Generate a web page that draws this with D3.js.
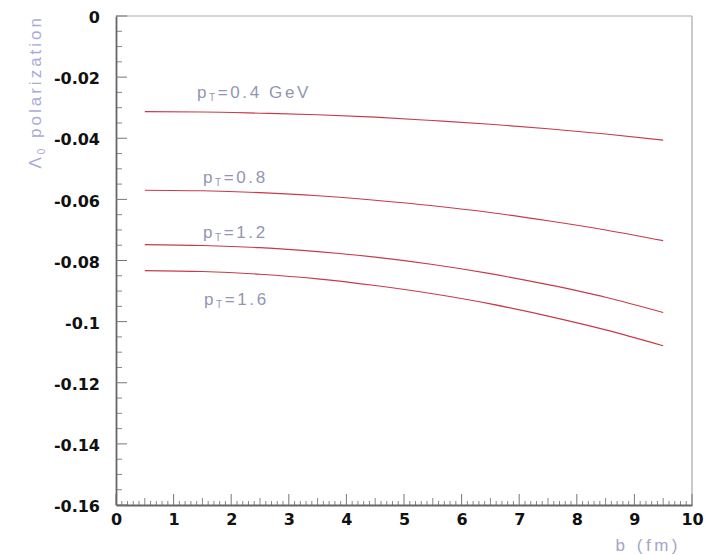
<!DOCTYPE html>
<html>
<head>
<meta charset="utf-8">
<script src="https://cdn.jsdelivr.net/npm/d3@7/dist/d3.min.js"></script>
<style>
  html, body { margin: 0; padding: 0; background: #fff; }
  svg { display: block; }
</style>
</head>
<body>
<svg id="chart" width="713" height="555"></svg>
<script>
// ---- data ----
const bValues = [0.5, 1.5, 2.5, 3.5, 4.5, 5.5, 6.5, 7.5, 8.5, 9.5];
const pt04 = [-0.0313, -0.0314, -0.0318, -0.0323, -0.0331, -0.0342, -0.0354, -0.0369, -0.0386, -0.0406];
const pt08 = [-0.0570, -0.0572, -0.0578, -0.0588, -0.0603, -0.0621, -0.0643, -0.0670, -0.0700, -0.0735];
const pt12 = [-0.0748, -0.0751, -0.0758, -0.0771, -0.0789, -0.0813, -0.0843, -0.0879, -0.0920, -0.0970];
const pt16 = [-0.0833, -0.0836, -0.0845, -0.0860, -0.0882, -0.0909, -0.0942, -0.0982, -0.1027, -0.1079];
const seriesLabels = ["=0.4 GeV", "=0.8", "=1.2", "=1.6"];
const xTickValues = [0, 1, 2, 3, 4, 5, 6, 7, 8, 9, 10];
const yTickValues = [0, -0.02, -0.04, -0.06, -0.08, -0.1, -0.12, -0.14, -0.16];
const yTickLabels = ["0", "-0.02", "-0.04", "-0.06", "-0.08", "-0.1", "-0.12", "-0.14", "-0.16"];

const series = [pt04, pt08, pt12, pt16];

(function () {
// ---- layout ----
const mLeft = 116, mRight = 692, mTop = 16, mBottom = 505;
const svg = d3.select("#chart");

const x = d3.scaleLinear().domain([0, 10]).range([mLeft, mRight]);
const y = d3.scaleLinear().domain([-0.16, 0]).range([mBottom, mTop]);

const axisColor = "#666";
const tickFont = "'DejaVu Sans', sans-serif";

// frame (top and right borders lighter)
svg.append("line").attr("x1", mLeft).attr("x2", mRight).attr("y1", mTop).attr("y2", mTop)
  .attr("stroke", "#aaa").attr("stroke-width", 1.2);
svg.append("line").attr("x1", mRight).attr("x2", mRight).attr("y1", mTop).attr("y2", mBottom)
  .attr("stroke", "#c4c4c4").attr("stroke-width", 1.8);

// minor ticks x
const xMinor = d3.range(0, 100).map(i => i / 10).filter(v => Math.abs(v - Math.round(v)) > 1e-6);
svg.append("g").selectAll("line").data(xMinor).join("line")
  .attr("x1", d => x(d)).attr("x2", d => x(d))
  .attr("y1", mBottom).attr("y2", d => mBottom - (Math.abs((d * 10) % 10 - 5) < 1e-6 ? 7 : 4))
  .attr("stroke", "#888").attr("stroke-width", 1);

// minor ticks y
const yMinor = d3.range(0, 33).map(i => -i * 0.005).filter((v, i) => i % 4 !== 0);
svg.append("g").selectAll("line").data(yMinor).join("line")
  .attr("x1", mLeft).attr("x2", mLeft + 6)
  .attr("y1", d => y(d)).attr("y2", d => y(d))
  .attr("stroke", "#888").attr("stroke-width", 1);

// x axis
const xAxis = d3.axisBottom(x).tickValues(xTickValues).tickSize(0).tickPadding(9)
  .tickFormat(d3.format("d"));
const gx = svg.append("g").attr("transform", `translate(0,${mBottom})`).call(xAxis);
gx.select(".domain").attr("stroke", axisColor).attr("stroke-width", 1.8);
gx.selectAll(".tick text").attr("font-family", tickFont).attr("font-weight", "bold")
  .attr("font-size", 16).attr("fill", "#111");
svg.append("g").selectAll("line").data(xTickValues).join("line")
  .attr("x1", d => x(d)).attr("x2", d => x(d)).attr("y1", mBottom).attr("y2", mBottom - 11)
  .attr("stroke", "#777").attr("stroke-width", 1);

// y axis
const yAxis = d3.axisLeft(y).tickValues(yTickValues).tickSize(0).tickPadding(16)
  .tickFormat((d, i) => yTickLabels[i]);
const gy = svg.append("g").attr("transform", `translate(${mLeft},0)`).call(yAxis);
gy.select(".domain").attr("stroke", axisColor).attr("stroke-width", 1.8);
gy.selectAll(".tick text").attr("font-family", tickFont).attr("font-weight", "bold")
  .attr("font-size", 16).attr("fill", "#111").attr("dy", "0.42em");
svg.append("g").selectAll("line").data(yTickValues).join("line")
  .attr("x1", mLeft).attr("x2", mLeft + 11).attr("y1", d => y(d)).attr("y2", d => y(d))
  .attr("stroke", "#777").attr("stroke-width", 1);

// curves
const line = d3.line().x((d, i) => x(bValues[i])).y(d => y(d)).curve(d3.curveMonotoneX);
svg.append("g").selectAll("path").data(series).join("path")
  .attr("d", d => line(d)).attr("fill", "none")
  .attr("stroke", "#c83a4a").attr("stroke-width", 1.1);

// curve labels
const labelFont = "'Liberation Sans', 'Open Sans', sans-serif";
const labelColor = "#9296b4";
const labelPos = [[197, 98], [203, 183], [203, 238], [204, 305]];
seriesLabels.forEach((s, i) => {
  const t = svg.append("text").attr("x", labelPos[i][0]).attr("y", labelPos[i][1])
    .attr("font-family", labelFont).attr("font-size", 17).attr("fill", labelColor)
    .attr("letter-spacing", 2.6);
  t.append("tspan").text("p");
  t.append("tspan").attr("font-size", 10).attr("dy", 3).text("T");
  t.append("tspan").attr("dy", -3).text(s);
});

// axis titles
svg.append("text").attr("x", 681).attr("y", 551).attr("text-anchor", "end")
  .attr("font-family", labelFont).attr("font-size", 17).attr("fill", "#a2a6c8")
  .attr("letter-spacing", 3.5)
  .text("b (fm)");

const yt = svg.append("text")
  .attr("transform", "translate(41,15) rotate(-90)")
  .attr("text-anchor", "end")
  .attr("font-family", labelFont).attr("font-size", 17).attr("fill", "#a8aad8")
  .attr("letter-spacing", 3);
yt.append("tspan").text("Λ");
yt.append("tspan").attr("font-size", 10).attr("dy", 4).text("0");
yt.append("tspan").attr("dy", -4).text(" polarization");
})();
</script>
</body>
</html>
